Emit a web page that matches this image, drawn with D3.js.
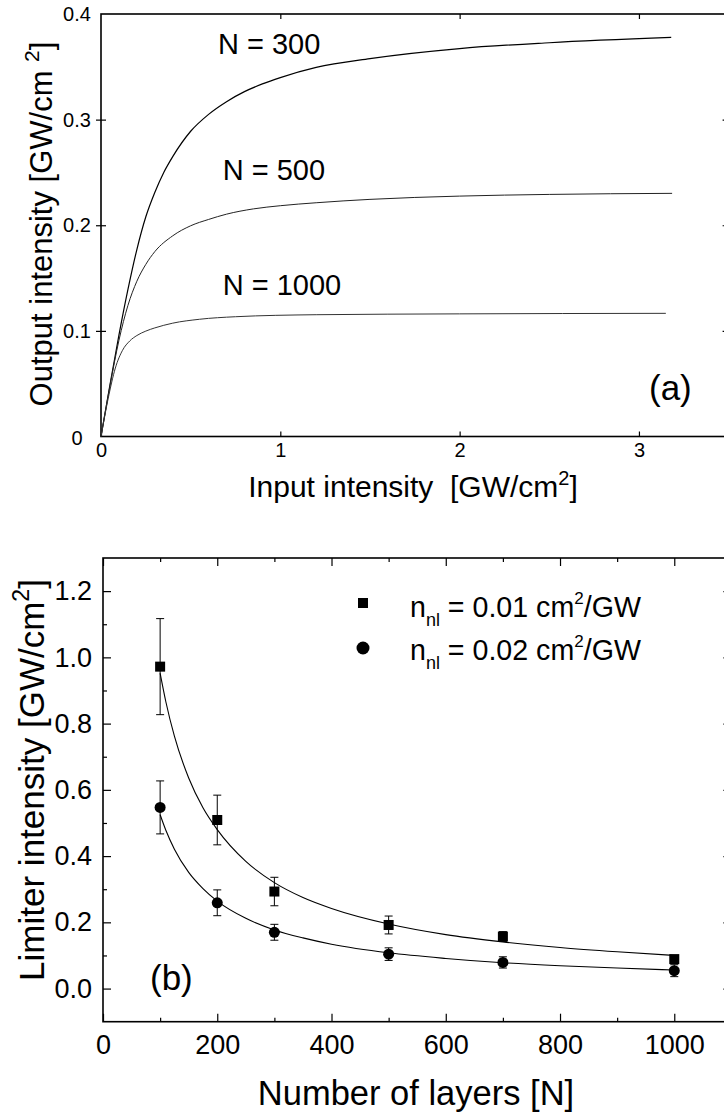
<!DOCTYPE html>
<html>
<head>
<meta charset="utf-8">
<script src="https://cdn.jsdelivr.net/npm/d3@7"></script>
<style>
  html, body { margin: 0; padding: 0; background: #fff; }
  svg { display: block; }
  text { font-family: 'Liberation Sans', Arial, Helvetica, sans-serif; fill: #000; }
</style>
</head>
<body>
<div id="chart"></div>
<script>
// ---------- Panel (a) data: output vs input intensity ----------
const curve300x  = [0, 0.05, 0.1, 0.15, 0.2, 0.25, 0.3, 0.35, 0.4, 0.5, 0.6, 0.7, 0.8, 0.9, 1.0, 1.2, 1.5, 2.0, 2.5, 3.18];
const curve300y  = [0, 0.049, 0.096, 0.139, 0.177, 0.208, 0.231, 0.25, 0.265, 0.289, 0.305, 0.317, 0.3265, 0.3338, 0.3398, 0.3494, 0.3578, 0.3673, 0.3728, 0.3778];
const curve500x  = [0, 0.05, 0.1, 0.15, 0.2, 0.25, 0.3, 0.4, 0.5, 0.6, 0.7, 0.85, 1.0, 1.2, 1.5, 2.0, 2.5, 3.185];
const curve500y  = [0, 0.048, 0.091, 0.124, 0.147, 0.163, 0.175, 0.19, 0.1995, 0.2055, 0.2105, 0.2155, 0.2185, 0.2213, 0.2245, 0.2276, 0.2292, 0.2302];
const curve1000x = [0, 0.04, 0.08, 0.12, 0.16, 0.2, 0.25, 0.3, 0.4, 0.55, 0.75, 1.2, 2.0, 3.15];
const curve1000y = [0, 0.036, 0.0648, 0.0816, 0.0904, 0.0956, 0.0998, 0.1028, 0.1073, 0.111, 0.1134, 0.1153, 0.1161, 0.1166];
const curveLabels = ["N = 300", "N = 500", "N = 1000"];
const topXTicks = [0, 1, 2, 3];
const topYTicks = [0, 0.1, 0.2, 0.3, 0.4];
const topYTickLabels = ["0", "0.1", "0.2", "0.3", "0.4"];

// ---------- Panel (b) data: limiter intensity vs number of layers ----------
const layersN  = [100, 200, 300, 500, 700, 1000];
const sqVals   = [0.972, 0.509, 0.293, 0.192, 0.157, 0.089];
const sqErr    = [0.145, 0.075, 0.043, 0.027, 0.015, 0.010];
const circVals = [0.547, 0.259, 0.170, 0.104, 0.079, 0.054];
const circErr  = [0.080, 0.039, 0.024, 0.019, 0.017, 0.018];
const fitN     = [100, 110, 125, 150, 175, 200, 250, 300, 350, 400, 500, 600, 700, 800, 900, 1000];
const fitSq    = [0.952, 0.866, 0.762, 0.636, 0.546, 0.480, 0.384, 0.320, 0.275, 0.242, 0.195, 0.163, 0.141, 0.124, 0.111, 0.100];
const fitCirc  = [0.525, 0.478, 0.421, 0.351, 0.302, 0.264, 0.212, 0.177, 0.153, 0.134, 0.108, 0.091, 0.078, 0.069, 0.062, 0.056];
const botXMajor = [0, 200, 400, 600, 800, 1000];
const botXMinor = [100, 300, 500, 700, 900];
const botYMajor = [0, 0.2, 0.4, 0.6, 0.8, 1.0, 1.2];
const botYMinor = [0.1, 0.3, 0.5, 0.7, 0.9, 1.1];
const legendCoeffs = ["0.01", "0.02"];

const svg = d3.select("#chart").append("svg").attr("width", 724).attr("height", 1114);
svg.append("rect").attr("width", 724).attr("height", 1114).attr("fill", "#fff");

function styleAxis(g) {
  g.select(".domain").remove();
  g.selectAll(".tick line").attr("stroke", "#000").attr("stroke-width", 1.2);
  g.selectAll(".tick text").attr("fill", "#000").attr("font-family", "'Liberation Sans', Arial, sans-serif");
}

// ================= Panel (a) =================
const xA = d3.scaleLinear().domain([0, 3.5]).range([101, 728.6]);
const yA = d3.scaleLinear().domain([0, 0.4]).range([436.5, 14]);
const gA = svg.append("g");

gA.append("g").attr("transform", `translate(0,${yA(0)})`)
  .call(d3.axisBottom(xA).tickValues(topXTicks).tickSize(-5).tickPadding(6).tickFormat(d3.format("d")))
  .call(styleAxis)
  .call(g => g.selectAll(".tick text").attr("font-size", 20));
gA.append("g").attr("transform", `translate(0,${yA(0.4)})`)
  .call(d3.axisTop(xA).tickValues([1, 2, 3]).tickSize(-5).tickFormat(""))
  .call(styleAxis);
gA.append("g").attr("transform", `translate(${xA(0)},0)`)
  .call(d3.axisLeft(yA).tickValues([0.1, 0.2, 0.3]).tickSize(5).tickFormat(""))
  .call(styleAxis);
gA.append("g").attr("transform", `translate(${xA(0)},0)`)
  .call(d3.axisLeft(yA).tickValues([0.1, 0.2, 0.3]).tickSize(-5).tickFormat(""))
  .call(styleAxis);
gA.append("g").attr("transform", `translate(${xA(3.5)},0)`)
  .call(d3.axisRight(yA).tickValues([0.1, 0.2, 0.3]).tickSize(-6).tickFormat(""))
  .call(styleAxis);
gA.selectAll(".ylab").data(topYTicks).join("text")
  .attr("x", 77).attr("y", d => yA(d) + (d === 0 ? 1.5 : 0)).attr("dy", "0.35em")
  .attr("text-anchor", "middle").attr("font-size", 20)
  .text((d, i) => topYTickLabels[i]);

gA.append("rect").attr("x", xA(0)).attr("y", yA(0.4))
  .attr("width", xA(3.5) - xA(0)).attr("height", yA(0) - yA(0.4))
  .attr("fill", "none").attr("stroke", "#000").attr("stroke-width", 1.6);

const lineA = d3.line().x(d => xA(d[0])).y(d => yA(d[1])).curve(d3.curveMonotoneX);
const curves = [
  { xs: curve300x, ys: curve300y, color: "#000", w: 1.2 },
  { xs: curve500x, ys: curve500y, color: "#222", w: 1.0 },
  { xs: curve1000x, ys: curve1000y, color: "#333", w: 1.0 }
];
curves.forEach(c => {
  gA.append("path").datum(c.xs.map((x, i) => [x, c.ys[i]]))
    .attr("d", lineA).attr("fill", "none").attr("stroke", c.color).attr("stroke-width", c.w);
});
const labelPos = [[218, 54], [222.7, 180], [222.7, 295]];
gA.selectAll(".clab").data(curveLabels).join("text")
  .attr("x", (d, i) => labelPos[i][0]).attr("y", (d, i) => labelPos[i][1])
  .attr("font-size", 29).text(d => d);
gA.append("text").attr("x", 649).attr("y", 400).attr("font-size", 35).text("(a)");

// axis titles (a)
const xtA = gA.append("text").attr("x", 413).attr("y", 497).attr("text-anchor", "middle").attr("font-size", 30);
xtA.append("tspan").text("Input intensity\u00A0\u00A0[GW/cm");
xtA.append("tspan").attr("font-size", 20).attr("dy", -12).text("2");
xtA.append("tspan").attr("dy", 12).text("]");
const ytA = gA.append("text").attr("transform", "translate(52,224) rotate(-90)").attr("text-anchor", "middle").attr("font-size", 31);
ytA.append("tspan").text("Output intensity [GW/cm\u00A0");
ytA.append("tspan").attr("font-size", 21).attr("dy", -13).text("2");
ytA.append("tspan").attr("dy", 13).text("]");

// ================= Panel (b) =================
const xB = d3.scaleLinear().domain([0, 1100]).range([103, 731.4]);
const yB = d3.scaleLinear().domain([-0.1, 1.3]).range([1021.7, 558]);
const gB = svg.append("g");

gB.append("g").attr("transform", `translate(0,${yB(-0.1)})`)
  .call(d3.axisBottom(xB).tickValues(botXMajor).tickSize(-8).tickPadding(13).tickFormat(d3.format("d")))
  .call(styleAxis)
  .call(g => g.selectAll(".tick text").attr("font-size", 27));
gB.append("g").attr("transform", `translate(0,${yB(-0.1)})`)
  .call(d3.axisBottom(xB).tickValues(botXMinor).tickSize(-4).tickFormat(""))
  .call(styleAxis);
gB.append("g").attr("transform", `translate(0,${yB(1.3)})`)
  .call(d3.axisTop(xB).tickValues(botXMajor).tickSize(-8).tickFormat(""))
  .call(styleAxis);
gB.append("g").attr("transform", `translate(0,${yB(1.3)})`)
  .call(d3.axisTop(xB).tickValues(botXMinor).tickSize(-4).tickFormat(""))
  .call(styleAxis);
gB.append("g").attr("transform", `translate(${xB(0)},0)`)
  .call(d3.axisLeft(yB).tickValues(botYMajor).tickSize(-8).tickPadding(11).tickFormat(d3.format(".1f")))
  .call(styleAxis)
  .call(g => g.selectAll(".tick text").attr("font-size", 27));
gB.append("g").attr("transform", `translate(${xB(0)},0)`)
  .call(d3.axisLeft(yB).tickValues(botYMinor).tickSize(-4).tickFormat(""))
  .call(styleAxis);
gB.append("g").attr("transform", `translate(${xB(1100)},0)`)
  .call(d3.axisRight(yB).tickValues(botYMajor).tickSize(-8).tickFormat(""))
  .call(styleAxis);
gB.append("g").attr("transform", `translate(${xB(1100)},0)`)
  .call(d3.axisRight(yB).tickValues(botYMinor).tickSize(-4).tickFormat(""))
  .call(styleAxis);

gB.append("rect").attr("x", xB(0)).attr("y", yB(1.3))
  .attr("width", xB(1100) - xB(0)).attr("height", yB(-0.1) - yB(1.3))
  .attr("fill", "none").attr("stroke", "#000").attr("stroke-width", 1.6);

const lineB = d3.line().x(d => xB(d[0])).y(d => yB(d[1])).curve(d3.curveMonotoneX);
[fitSq, fitCirc].forEach(arr => {
  gB.append("path").datum(fitN.map((n, i) => [n, arr[i]]))
    .attr("d", lineB).attr("fill", "none").attr("stroke", "#000").attr("stroke-width", 1.1);
});

function errBars(vals, errs) {
  const g = gB.append("g").attr("stroke", "#000").attr("stroke-width", 1);
  layersN.forEach((n, i) => {
    const x = xB(n), y1 = yB(vals[i] + errs[i]), y0 = yB(vals[i] - errs[i]);
    g.append("line").attr("x1", x).attr("x2", x).attr("y1", y1).attr("y2", y0);
    g.append("line").attr("x1", x - 4).attr("x2", x + 4).attr("y1", y1).attr("y2", y1);
    g.append("line").attr("x1", x - 4).attr("x2", x + 4).attr("y1", y0).attr("y2", y0);
  });
}
errBars(sqVals, sqErr);
errBars(circVals, circErr);

gB.selectAll(".sq").data(layersN).join("rect")
  .attr("x", d => xB(d) - 5).attr("y", (d, i) => yB(sqVals[i]) - 5)
  .attr("width", 10).attr("height", 10).attr("fill", "#000");
gB.selectAll(".ci").data(layersN).join("circle")
  .attr("cx", d => xB(d)).attr("cy", (d, i) => yB(circVals[i]))
  .attr("r", 5.5).attr("fill", "#000");

// legend
gB.append("rect").attr("x", 358).attr("y", 598).attr("width", 10).attr("height", 10).attr("fill", "#000");
gB.append("circle").attr("cx", 363).attr("cy", 648).attr("r", 6.5).attr("fill", "#000");
legendCoeffs.forEach((c, i) => {
  const t = gB.append("text").attr("x", 410).attr("y", 616.7 + i * 43.3).attr("font-size", 28.6);
  t.append("tspan").text("n");
  t.append("tspan").attr("font-size", 18).attr("dy", 9).text("nl");
  t.append("tspan").attr("dy", -9).text(` = ${c} cm`);
  t.append("tspan").attr("font-size", 17).attr("dy", -13).text("2");
  t.append("tspan").attr("dy", 13).text("/GW");
});

gB.append("text").attr("x", 150).attr("y", 990).attr("font-size", 35).text("(b)");

gB.append("text").attr("x", 416).attr("y", 1105).attr("text-anchor", "middle").attr("font-size", 34.5).text("Number of layers [N]");
const ytB = gB.append("text").attr("transform", "translate(44,780) rotate(-90)").attr("text-anchor", "middle").attr("font-size", 35);
ytB.append("tspan").text("Limiter intensity [GW/cm");
ytB.append("tspan").attr("font-size", 23).attr("dy", -15).text("2");
ytB.append("tspan").attr("dy", 15).text("]");
</script>
</body>
</html>
